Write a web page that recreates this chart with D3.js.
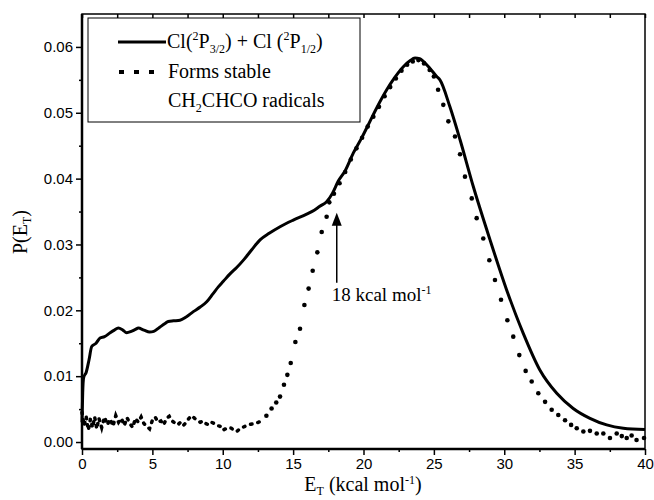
<!DOCTYPE html>
<html>
<head>
<meta charset="utf-8">
<script src="https://cdn.jsdelivr.net/npm/d3@7/dist/d3.min.js"></script>
<style>
  body { margin: 0; background: #fff; }
  .serif { font-family: "Liberation Serif", "DejaVu Serif", serif; }
</style>
</head>
<body>
<div id="chart"></div>
<script>
// Cl(2P3/2) + Cl(2P1/2) total P(ET)
let solidE = [0, 0.05, 0.12, 0.3, 0.5, 0.69, 1.0, 1.28, 1.6, 2.0, 2.3, 2.58, 2.9, 3.17, 3.5, 3.8, 4.0, 4.4, 4.8, 5.1,
    5.5, 5.9, 6.13, 6.5, 6.96, 7.4, 7.91, 8.4, 8.86, 9.3, 9.7, 10.04, 10.5, 10.99, 11.5, 12.06, 12.65, 13.3, 14.07, 15.01,
    15.96, 16.5, 16.9, 17.38, 17.8, 18.2, 18.7, 19.28, 19.9, 20.46, 21.0, 21.65, 22.2, 22.83, 23.3, 23.66, 24.0, 24.25, 24.7, 25.2,
    25.43, 26.14, 26.86, 27.8, 28.99, 30.17, 31.35, 32.54, 33.73, 34.9, 36.09, 37.28, 38.46, 40];
let solidP = [0.003, 0.0075, 0.0098, 0.0106, 0.0125, 0.0145, 0.015, 0.0158, 0.016, 0.0166, 0.017, 0.0173, 0.017, 0.0166, 0.0168, 0.0171, 0.0173, 0.017, 0.0167, 0.0168,
    0.0174, 0.018, 0.0183, 0.0184, 0.0185, 0.019, 0.0198, 0.0205, 0.0213, 0.0225, 0.0236, 0.0244, 0.0255, 0.0265, 0.0277, 0.0292, 0.0307, 0.0317, 0.0327, 0.0337,
    0.0346, 0.0352, 0.0358, 0.0365, 0.0378, 0.0396, 0.0412, 0.0439, 0.0463, 0.0487, 0.051, 0.0535, 0.0553, 0.057, 0.0579, 0.0583, 0.0582, 0.0578, 0.0568, 0.0555,
    0.055, 0.0509, 0.0459, 0.0388, 0.0307, 0.0231, 0.0165, 0.0109, 0.0074, 0.0051, 0.0036, 0.0026, 0.0021, 0.0019];

// fraction forming stable CH2CHCO radicals
let dotE = [0, 0.15, 0.3, 0.45, 0.6, 0.75, 0.9, 1.05, 1.2, 1.4, 1.6, 1.8, 2.0, 2.2, 2.4, 2.6, 2.8, 3.0, 3.2, 3.4,
    3.6, 3.8, 4.0, 4.2, 4.4, 4.6, 4.8, 5.0, 5.2, 5.4, 5.6, 5.8, 6.0, 6.2, 6.4, 6.6, 6.8, 7.0, 7.2, 7.4,
    7.6, 7.8, 8.0, 8.2, 8.4, 8.6, 8.8, 9.0, 9.2, 9.4, 9.6, 9.8, 10.0, 10.2, 10.4, 10.6, 10.8, 11.0, 11.2, 11.4,
    11.6, 11.8, 12.0, 12.3, 12.65, 13.1, 13.47, 13.8, 14.07, 14.35, 14.59, 14.83, 15.16, 15.49, 15.8, 16.1, 16.39, 16.72, 17.03, 17.38, 17.57, 17.9,
    18.3, 18.7, 19.1, 19.5, 19.9, 20.3, 20.7, 21.1, 21.5, 21.9, 22.3, 22.7, 23.1, 23.5, 23.9, 24.3, 24.7, 25.0, 25.3, 25.67,
    26.03, 26.5, 26.86, 27.21, 27.69, 28.04, 28.51, 28.94, 29.34, 29.77, 30.22, 30.64, 31.07, 31.52, 31.95, 32.42, 32.9, 33.37, 33.84, 34.32,
    34.75, 35.15, 35.62, 36.09, 36.57, 37.04, 37.51, 37.99, 38.35, 38.7, 39.05, 39.4, 39.93];
let dotP = [0.0045, 0.0025, 0.0038, 0.0018, 0.0035, 0.0022, 0.0038, 0.002, 0.0036, 0.0022, 0.0038, 0.0026, 0.0035, 0.0024, 0.004, 0.003, 0.0036, 0.0025, 0.0037, 0.0028,
    0.0022, 0.0036, 0.003, 0.0038, 0.0028, 0.0024, 0.002, 0.0033, 0.0038, 0.003, 0.0032, 0.0026, 0.0036, 0.0039, 0.0032, 0.0029, 0.0026, 0.003, 0.0025, 0.003,
    0.0036, 0.004, 0.0036, 0.0033, 0.003, 0.0032, 0.0028, 0.0026, 0.003, 0.0028, 0.0025, 0.0024, 0.0018, 0.002, 0.0022, 0.0021, 0.0018, 0.0016, 0.002, 0.0022,
    0.0024, 0.0026, 0.0027, 0.0028, 0.0031, 0.0040, 0.0051, 0.0060, 0.0069, 0.0087, 0.0102, 0.012, 0.0152, 0.0172, 0.0208, 0.0233, 0.026, 0.0288, 0.0319, 0.0342, 0.0364, 0.0377,
    0.0393, 0.041, 0.0429, 0.0446, 0.0462, 0.0479, 0.0494, 0.0509, 0.0525, 0.0539, 0.0552, 0.0564, 0.0573, 0.0578, 0.058, 0.0575, 0.0565, 0.0555, 0.0535, 0.0512,
    0.0487, 0.0464, 0.0437, 0.0403, 0.037, 0.034, 0.0309, 0.0276, 0.0246, 0.0216, 0.0185, 0.016, 0.0132, 0.0108, 0.0092, 0.0074, 0.0061, 0.0049, 0.0041, 0.0033,
    0.0026, 0.0021, 0.0016, 0.0017, 0.0013, 0.0013, 0.0006, 0.0013, 0.0009, 0.0006, 0.0010, 0.0003, 0.0006];

let xTicks = [0, 5, 10, 15, 20, 25, 30, 35, 40];
let yTicks = [0.00, 0.01, 0.02, 0.03, 0.04, 0.05, 0.06];

// 18 kcal/mol threshold arrow
let arrowE = 18.1;
let arrowFrom = 0.0242;
let arrowTo = 0.0348;

// noisy low-energy part of the dotted trace is drawn as a dotted line, the rest as single dots
let noisyEnd = 12.65;

let margin = {top: 14, right: 9, bottom: 51, left: 82};
let width = 654 - margin.left - margin.right;
let height = 500 - margin.top - margin.bottom;

let svg = d3.select('#chart').append('svg')
    .attr('width', 654)
    .attr('height', 500);

let g = svg.append('g')
    .attr('transform', 'translate(' + margin.left + ',' + margin.top + ')');

let xScale = d3.scaleLinear().domain([0, 40]).range([0, width]);
let yScale = d3.scaleLinear().domain([-0.00106, 0.065]).range([height, 0]);

let xMinor = d3.range(2.5, 40, 5);
let yMinor = d3.range(0.005, 0.065, 0.01);

let xAxis = g.append('g')
    .attr('transform', 'translate(0,' + height + ')')
    .call(d3.axisBottom(xScale).tickValues(xTicks).tickSize(6).tickSizeOuter(0).tickFormat(d3.format('d')));
xAxis.append('g').call(d3.axisBottom(xScale).tickValues(xMinor).tickSize(3).tickFormat(''));

let yAxis = g.append('g')
    .call(d3.axisLeft(yScale).tickValues(yTicks).tickSize(6).tickSizeOuter(0).tickFormat(d3.format('.2f')));
yAxis.append('g').call(d3.axisLeft(yScale).tickValues(yMinor).tickSize(3).tickFormat(''));

// top axis, ticks pointing inward
g.append('g')
    .call(d3.axisTop(xScale).tickValues(xTicks.concat(xMinor)).tickSize(-4).tickSizeOuter(0).tickFormat(''));

g.selectAll('.domain').remove();
g.selectAll('.tick line').attr('stroke', '#000').attr('stroke-width', 1.5);
g.selectAll('.tick text')
    .attr('font-family', '"Liberation Sans", Arial, sans-serif')
    .attr('font-size', 15)
    .attr('fill', '#000');

// frame
g.append('rect')
    .attr('width', width)
    .attr('height', height)
    .attr('fill', 'none')
    .attr('stroke', '#000')
    .attr('stroke-width', 1.5);
g.append('line').attr('x1', 0).attr('x2', 0).attr('y1', 0).attr('y2', height)
    .attr('stroke', '#000').attr('stroke-width', 2.5);
g.append('line').attr('x1', 0).attr('x2', width).attr('y1', height).attr('y2', height)
    .attr('stroke', '#000').attr('stroke-width', 2.5);

let line = d3.line()
    .x(d => xScale(d[0]))
    .y(d => yScale(d[1]));
let smoothLine = d3.line()
    .curve(d3.curveMonotoneX)
    .x(d => xScale(d[0]))
    .y(d => yScale(d[1]));

g.append('path')
    .datum(solidE.map((e, i) => [e, solidP[i]]))
    .attr('d', smoothLine)
    .attr('fill', 'none')
    .attr('stroke', '#000')
    .attr('stroke-width', 3)
    .attr('stroke-linejoin', 'round');

let dotData = dotE.map((e, i) => [e, dotP[i]]);

g.append('path')
    .datum(dotData.filter(d => d[0] <= noisyEnd))
    .attr('d', line)
    .attr('fill', 'none')
    .attr('stroke', '#000')
    .attr('stroke-width', 3.5)
    .attr('stroke-linecap', 'round')
    .attr('stroke-dasharray', '1.5,6');

g.selectAll('circle.dot')
    .data(dotData.filter(d => d[0] > noisyEnd))
    .enter()
    .append('circle')
    .attr('class', 'dot')
    .attr('cx', d => xScale(d[0]))
    .attr('cy', d => yScale(d[1]))
    .attr('r', 2.3)
    .attr('fill', '#000');

// arrow
let ax = xScale(arrowE);
g.append('line')
    .attr('x1', ax).attr('x2', ax)
    .attr('y1', yScale(arrowFrom)).attr('y2', yScale(arrowTo) + 10)
    .attr('stroke', '#000').attr('stroke-width', 1.5);
g.append('path')
    .attr('d', 'M' + ax + ',' + yScale(arrowTo) + 'l-5,13l10,0z')
    .attr('fill', '#000');

let note = g.append('text')
    .attr('class', 'serif')
    .attr('x', ax - 5)
    .attr('y', yScale(arrowFrom) + 18)
    .attr('font-size', 19);
note.append('tspan').text('18 kcal mol');
note.append('tspan').attr('dy', -7).attr('font-size', 12).text('-1');

// axis titles
let xt = svg.append('text')
    .attr('class', 'serif')
    .attr('x', 363)
    .attr('y', 491)
    .attr('text-anchor', 'middle')
    .attr('font-size', 20);
xt.append('tspan').text('E');
xt.append('tspan').attr('dy', 4).attr('font-size', 12).text('T');
xt.append('tspan').attr('dy', -4).text(' (kcal mol');
xt.append('tspan').attr('dy', -7).attr('font-size', 12).text('-1');
xt.append('tspan').attr('dy', 7).text(')');

let yt = svg.append('text')
    .attr('class', 'serif')
    .attr('transform', 'translate(27,232) rotate(-90)')
    .attr('text-anchor', 'middle')
    .attr('font-size', 20);
yt.append('tspan').text('P(E');
yt.append('tspan').attr('dy', 4).attr('font-size', 12).text('T');
yt.append('tspan').attr('dy', -4).text(')');

// legend
let legend = svg.append('g');
legend.append('rect')
    .attr('x', 88).attr('y', 18).attr('width', 272).attr('height', 104)
    .attr('fill', '#fff').attr('stroke', '#000').attr('stroke-width', 1);
legend.append('line')
    .attr('x1', 118).attr('x2', 166).attr('y1', 42).attr('y2', 42)
    .attr('stroke', '#000').attr('stroke-width', 3);
legend.append('line')
    .attr('x1', 119).attr('x2', 155).attr('y1', 72).attr('y2', 72)
    .attr('stroke', '#000').attr('stroke-width', 4).attr('stroke-dasharray', '5,10');

let l1 = legend.append('text')
    .attr('class', 'serif')
    .attr('x', 167).attr('y', 48)
    .attr('font-size', 20);
l1.append('tspan').text('Cl(');
l1.append('tspan').attr('dy', -8).attr('font-size', 12).text('2');
l1.append('tspan').attr('dy', 8).text('P');
l1.append('tspan').attr('dy', 5).attr('font-size', 12).text('3/2');
l1.append('tspan').attr('dy', -5).text(') + Cl (');
l1.append('tspan').attr('dy', -8).attr('font-size', 12).text('2');
l1.append('tspan').attr('dy', 8).text('P');
l1.append('tspan').attr('dy', 5).attr('font-size', 12).text('1/2');
l1.append('tspan').attr('dy', -5).text(')');

legend.append('text')
    .attr('class', 'serif')
    .attr('x', 168).attr('y', 78)
    .attr('font-size', 20)
    .text('Forms stable');

let l3 = legend.append('text')
    .attr('class', 'serif')
    .attr('x', 168).attr('y', 107)
    .attr('font-size', 20);
l3.append('tspan').text('CH');
l3.append('tspan').attr('dy', 5).attr('font-size', 12).text('2');
l3.append('tspan').attr('dy', -5).text('CHCO radicals');
</script>
</body>
</html>
